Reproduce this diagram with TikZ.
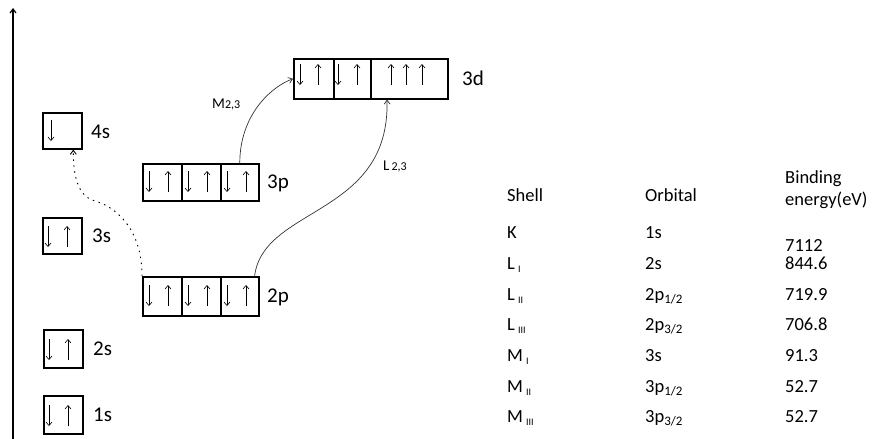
\documentclass[tikz,border=0pt]{standalone}
\usepackage{fontspec}
\setmainfont{Carlito}
\usetikzlibrary{arrows.meta}
\newcommand\fsz[1]{\fontsize{#1}{#1}\selectfont}
\newcommand\spindn[3]{\draw[spin] ([shift={(#2,#3)}]#1.north west) -- ++(0,21);}
\newcommand\spinup[3]{\draw[spin] ([shift={(#2,{#3+21})}]#1.north west) -- ++(0,-21);}
\newcommand\rsub[1]{{\fsz{10}\raisebox{-3pt}{#1}}}
\begin{document}
\begin{tikzpicture}[x=1pt,y=-1pt,
  orb/.style={draw, line width=1.6pt, inner sep=0pt, anchor=north west},
  spin/.style={line width=0.6pt, -{Straight Barb[length=3.5pt,width=6pt]}},
  lvl/.style={font=\fsz{21}, anchor=base west, inner sep=0pt},
  tab/.style={font=\fsz{18.5}, anchor=base west, inner sep=0pt},
  trans/.style={line width=0.7pt, draw=black!80, -{Straight Barb[length=4pt,width=6pt]}},
  dotline/.style={line width=0.9pt, dash pattern=on 1.5pt off 4.5pt, -{Straight Barb[length=4pt,width=6pt]}}]
\useasboundingbox (0,0) rectangle (892,439);

% axis
\coordinate (axb) at (13,439);
\coordinate (axt) at (13,8);
\draw[line width=1.2pt, -{Straight Barb[length=4pt,width=6pt]}] (axb) -- (axt);

% single s boxes
\node[orb, minimum width=39pt, minimum height=36pt] (s4) at (42,112) {};
\node[orb, minimum width=39pt, minimum height=36pt] (s3) at (42,217) {};
\node[orb, minimum width=39pt, minimum height=38pt] (s2) at (43,329) {};
\node[orb, minimum width=39pt, minimum height=38pt] (s1) at (43,395) {};

% 2p
\node[orb, minimum width=39pt, minimum height=39pt] (p2a) at (142,276) {};
\node[orb, minimum width=39pt, minimum height=39pt] (p2b) at (181,276) {};
\node[orb, minimum width=38pt, minimum height=39pt] (p2c) at (220,276) {};
% 3p
\node[orb, minimum width=39pt, minimum height=37pt] (p3a) at (142,163) {};
\node[orb, minimum width=39pt, minimum height=37pt] (p3b) at (181,163) {};
\node[orb, minimum width=38pt, minimum height=37pt] (p3c) at (220,163) {};
% 3d
\node[orb, minimum width=40pt, minimum height=40pt] (d1) at (293,58) {};
\node[orb, minimum width=37pt, minimum height=40pt] (d2) at (333,58) {};
\node[orb, minimum width=77pt, minimum height=40pt] (d3) at (370,58) {};

% spins
\spindn{s4}{9}{8}
\spindn{s3}{6}{9} \spinup{s3}{25}{9}
\spindn{s2}{6}{10} \spinup{s2}{25}{10}
\spindn{s1}{6}{10} \spinup{s1}{25}{10}
\foreach \n in {p2a,p2b,p2c}{\spindn{\n}{7}{9} \spinup{\n}{26}{9}}
\foreach \n in {p3a,p3b,p3c}{\spindn{\n}{7}{8} \spinup{\n}{26}{8}}
\spindn{d1}{7}{6} \spinup{d1}{25}{6}
\spindn{d2}{5}{6} \spinup{d2}{24}{6}
\spinup{d3}{21}{6} \spinup{d3}{36}{6} \spinup{d3}{52}{6}

% level labels
\node[lvl] (l4s) at (91,138) {4s};
\node[lvl] (l3s) at (92,242) {3s};
\node[lvl] (l2s) at (93,355) {2s};
\node[lvl] (l1s) at (93,421) {1s};
\node[lvl] (l2p) at (267,302) {2p};
\node[lvl] (l3p) at (267,188) {3p};
\node[lvl] (l3d) at (462,85) {3d};

% transitions
\draw[trans] (p3c.north) .. controls +(0,-48) and +(-22,8) .. (d1.west);
\coordinate (d3in) at ([xshift=17pt]d3.south west);
\draw[trans] ([xshift=-5pt]p2c.north east) .. controls +(9,-70) and +(3,117) .. (d3in);
\coordinate (s4in) at ([xshift=11pt]s4.south);
\draw[dotline] (p2a.north west) .. controls +(0,-50) and +(18,5) .. (95,201) .. controls +(-18,-5) and +(0,25) .. (s4in);

\node[font=\fsz{15}, anchor=base west, inner sep=0pt] (m23) at (212,108) {M{\fsz{12}2,3}};
\node[font=\fsz{15}, anchor=base west, inner sep=0pt] (l23) at (383,170) {L{\fsz{12}\,2,3}};

% table
\node[tab] (hsh) at (507,201) {Shell};
\node[tab] (hor) at (645,201) {Orbital};
\node[tab] (hb1) at (785,183) {Binding};
\node[tab] (hb2) at (785,205) {energy(eV)};

\node[tab] (k) at (507,238) {K};
\node[tab] (k1) at (645,238) {1s};
\node[tab] (k2) at (785,251) {7112};

\node[tab] (l1) at (507,269) {L\,\rsub{I}};
\node[tab] (l1o) at (645,269) {2s};
\node[tab] (l1e) at (785,269) {844.6};

\node[tab] (l2) at (507,300) {L\,\rsub{II}};
\node[tab] (l2o) at (645,300) {2p\textsubscript{1/2}};
\node[tab] (l2e) at (785,300) {719.9};

\node[tab] (l3) at (507,330) {L\,\rsub{III}};
\node[tab] (l3o) at (645,330) {2p\textsubscript{3/2}};
\node[tab] (l3e) at (785,330) {706.8};

\node[tab] (m1) at (507,361) {M\,\rsub{I}};
\node[tab] (m1o) at (645,361) {3s};
\node[tab] (m1e) at (785,361) {91.3};

\node[tab] (m2) at (507,392) {M\,\rsub{II}};
\node[tab] (m2o) at (645,392) {3p\textsubscript{1/2}};
\node[tab] (m2e) at (785,392) {52.7};

\node[tab] (m3) at (507,422) {M\,\rsub{III}};
\node[tab] (m3o) at (645,422) {3p\textsubscript{3/2}};
\node[tab] (m3e) at (785,422) {52.7};
\end{tikzpicture}
\end{document}
